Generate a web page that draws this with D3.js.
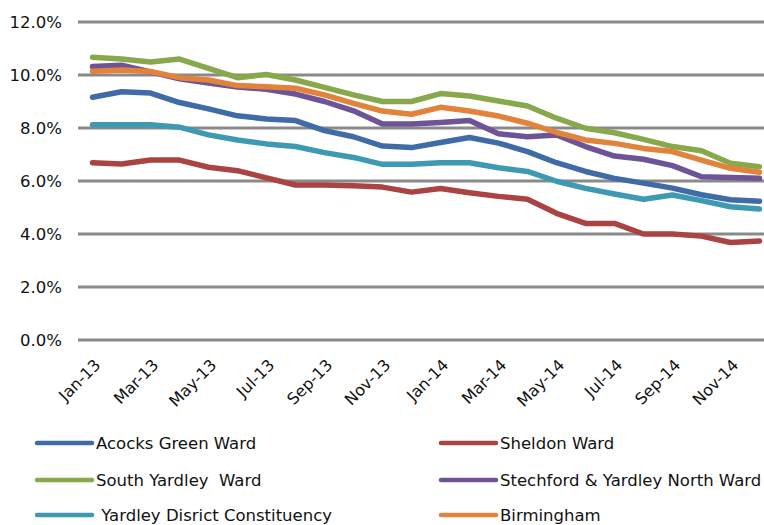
<!DOCTYPE html>
<html>
<head>
<meta charset="utf-8">
<script src="https://cdn.jsdelivr.net/npm/d3@7"></script>
<style>
  html, body { margin: 0; padding: 0; background: #fff; }
  svg { display: block; font-family: "DejaVu Sans", Verdana, sans-serif; }
</style>
</head>
<body>
<svg id="chart" width="764" height="525"></svg>
<script>
// Monthly claimant rates, Jan-13 .. Dec-14
const months = ["Jan-13","Feb-13","Mar-13","Apr-13","May-13","Jun-13","Jul-13","Aug-13","Sep-13","Oct-13","Nov-13","Dec-13",
                "Jan-14","Feb-14","Mar-14","Apr-14","May-14","Jun-14","Jul-14","Aug-14","Sep-14","Oct-14","Nov-14","Dec-14"];
const tickMonths = months.filter((m, i) => i % 2 === 0);
const yTicks = [0, 2, 4, 6, 8, 10, 12];

const acocksGreen   = [9.16, 9.37, 9.32, 8.96, 8.72, 8.46, 8.34, 8.28, 7.90, 7.67, 7.32, 7.26, 7.45, 7.64, 7.43, 7.11, 6.69, 6.36, 6.10, 5.92, 5.73, 5.48, 5.29, 5.24];
const sheldon       = [6.69, 6.64, 6.79, 6.79, 6.52, 6.39, 6.12, 5.85, 5.85, 5.82, 5.77, 5.58, 5.72, 5.56, 5.42, 5.31, 4.78, 4.40, 4.40, 4.00, 4.00, 3.92, 3.68, 3.74];
const southYardley  = [10.67, 10.60, 10.49, 10.60, 10.25, 9.90, 10.02, 9.81, 9.53, 9.25, 9.00, 9.00, 9.30, 9.21, 9.02, 8.83, 8.37, 7.99, 7.82, 7.57, 7.30, 7.14, 6.67, 6.54];
const stechford     = [10.32, 10.37, 10.12, 9.86, 9.70, 9.55, 9.46, 9.28, 9.00, 8.65, 8.15, 8.15, 8.21, 8.28, 7.78, 7.67, 7.74, 7.30, 6.94, 6.82, 6.58, 6.16, 6.13, 6.10];
const yardleyDist   = [8.12, 8.12, 8.12, 8.03, 7.74, 7.55, 7.40, 7.30, 7.07, 6.89, 6.63, 6.63, 6.69, 6.69, 6.50, 6.36, 5.99, 5.72, 5.51, 5.31, 5.47, 5.26, 5.03, 4.94];
const birmingham    = [10.14, 10.19, 10.13, 9.90, 9.81, 9.60, 9.56, 9.50, 9.25, 8.93, 8.64, 8.52, 8.78, 8.64, 8.45, 8.18, 7.83, 7.55, 7.42, 7.23, 7.11, 6.79, 6.48, 6.33];

const seriesNames  = ["Acocks Green Ward", "Sheldon Ward", "South Yardley  Ward", "Stechford & Yardley North Ward", " Yardley Disrict Constituency", "Birmingham"];
const seriesValues = [acocksGreen, sheldon, southYardley, stechford, yardleyDist, birmingham];
const seriesColors = ["#3F6CA7", "#AB4343", "#87A84B", "#6C5496", "#3E9AB2", "#E3823A"];

const svg = d3.select("#chart");

const x = d3.scaleBand().domain(months).range([78, 774]);
const y = d3.scaleLinear().domain([0, 12]).range([340, 22]);

// horizontal gridlines
svg.append("g")
  .selectAll("line")
  .data(yTicks)
  .join("line")
  .attr("x1", 78).attr("x2", 774)
  .attr("y1", d => y(d)).attr("y2", d => y(d))
  .attr("stroke", "#8A8A8A")
  .attr("stroke-width", 3);

// y axis labels
const yAxis = d3.axisLeft(y).tickValues(yTicks).tickSize(0).tickPadding(0)
  .tickFormat(d => d3.format(".1f")(d) + "%");
svg.append("g")
  .attr("transform", "translate(62,0)")
  .call(yAxis)
  .call(g => g.select(".domain").remove())
  .call(g => g.selectAll("text")
    .attr("font-family", "DejaVu Sans, sans-serif")
    .attr("font-size", 16.5)
    .attr("fill", "#111"));

// x axis labels (rotated)
const xAxis = d3.axisBottom(x).tickValues(tickMonths).tickSize(0).tickPadding(0);
svg.append("g")
  .attr("transform", "translate(0,340)")
  .call(xAxis)
  .call(g => g.select(".domain").remove())
  .call(g => g.selectAll("text")
    .attr("font-family", "DejaVu Sans, sans-serif")
    .attr("font-size", 16)
    .attr("fill", "#111")
    .attr("text-anchor", "end")
    .attr("dy", null)
    .attr("transform", "translate(9,26) rotate(-45)"));

// series lines
const line = d3.line()
  .x((d, i) => x(months[i]) + x.bandwidth() / 2)
  .y(d => y(d));

svg.append("g")
  .selectAll("path")
  .data(seriesValues)
  .join("path")
  .attr("d", d => line(d))
  .attr("fill", "none")
  .attr("stroke", (d, i) => seriesColors[i])
  .attr("stroke-width", 5.5)
  .attr("stroke-linejoin", "round")
  .attr("stroke-linecap", "round");

// legend: two columns, three rows
const legendCols = [37, 441];
const legendRows = [443, 480, 515];
const legend = svg.append("g")
  .selectAll("g")
  .data(seriesNames)
  .join("g")
  .attr("transform", (d, i) => `translate(${legendCols[i % 2]},${legendRows[Math.floor(i / 2)]})`);

legend.append("line")
  .attr("x1", 0).attr("x2", 55)
  .attr("y1", 0).attr("y2", 0)
  .attr("stroke", (d, i) => seriesColors[i])
  .attr("stroke-width", 4.5)
  .attr("stroke-linecap", "round");

legend.append("text")
  .attr("x", 59)
  .attr("y", 6)
  .attr("font-family", "DejaVu Sans, sans-serif")
  .attr("font-size", 16.5)
  .attr("fill", "#111")
  .attr("xml:space", "preserve")
  .style("white-space", "pre")
  .text(d => d);
</script>
</body>
</html>
